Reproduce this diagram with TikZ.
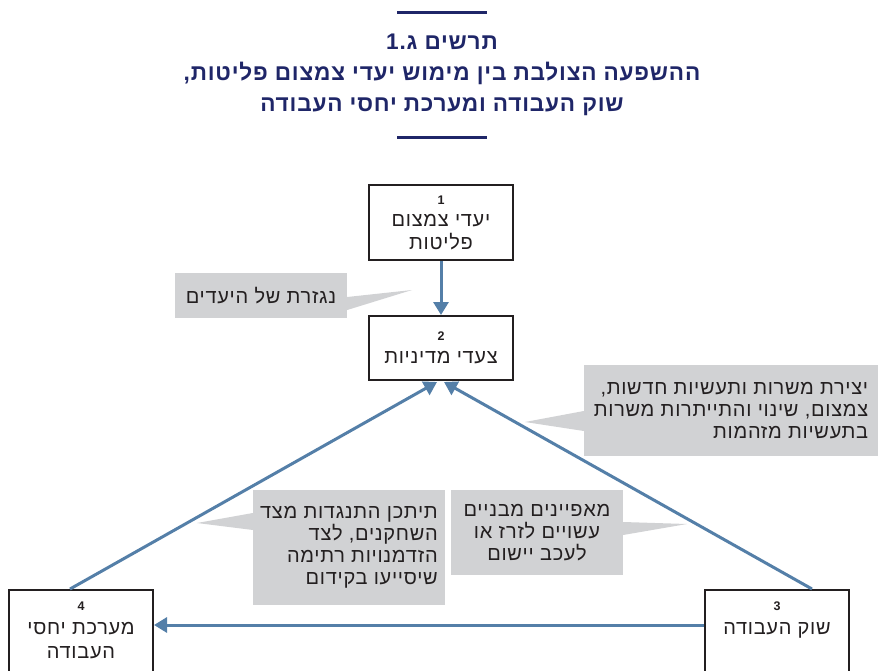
\documentclass[tikz,border=0pt]{standalone}
\usepackage{fontspec}
\setmainfont{Liberation Sans}[Script=Hebrew, LetterSpace=3.5]
\usetikzlibrary{arrows.meta}
\TeXXeTstate=1
\newcommand{\heb}[1]{\beginR #1\endR}
\newcommand{\mispar}[1]{{\fontsize{12.5}{22}\selectfont\bfseries #1}}
\definecolor{koteret}{RGB}{31,38,104}
\definecolor{hetz}{RGB}{84,127,168}
\definecolor{afor}{RGB}{209,210,212}
\definecolor{tekst}{RGB}{35,31,32}
\tikzset{
  tivah/.style={draw=tekst, line width=2pt, fill=white, text=tekst, align=center,
    minimum width=144pt, inner sep=4pt, font=\fontsize{20}{22.5}\selectfont},
  heara/.style={fill=afor, text=tekst, inner sep=0pt, font=\fontsize{20}{22}\selectfont},
  kav/.style={hetz, line width=3pt, -{Triangle[length=13pt,width=15pt]}}
}
\begin{document}
\begin{tikzpicture}[x=1pt,y=-1pt]
\useasboundingbox (0,0) rectangle (878,671);
\clip (0,0) rectangle (878,671);
\draw[koteret, line width=3pt] (397,13) -- (487,13);
\draw[koteret, line width=3pt] (397,138) -- (487,138);
\node[koteret, align=center, font=\fontsize{22.6}{31}\selectfont\bfseries] (titel) at (442,75)
  {\heb{תרשים ג.1}\\ \heb{ההשפעה הצולבת בין מימוש יעדי צמצום פליטות,}\\ \heb{שוק העבודה ומערכת יחסי העבודה}};

\node[heara, minimum width=172pt, minimum height=45pt] (h1) at (261,295.5) {\heb{נגזרת של היעדים}};
\coordinate (p1) at (412,290);
\fill[afor] ([yshift=-1.5]h1.east) -- (p1) -- ([yshift=-14.5]h1.east) -- cycle;

\node[heara, minimum width=294pt, minimum height=91pt, align=right] (h2) at (731,410.5)
  {\heb{יצירת משרות ותעשיות חדשות,}\\ \heb{צמצום, שינוי והתייתרות משרות}\\ \heb{בתעשיות מזהמות}};
\coordinate (p2) at (525,422);
\fill[afor] ([yshift=-0.5]h2.west) -- (p2) -- ([yshift=-20.5]h2.west) -- cycle;

\node[heara, minimum width=192pt, minimum height=115pt, align=right] (h3) at (349,547.5)
  {\heb{תיתכן התנגדות מצד}\\ \heb{השחקנים, לצד}\\ \heb{הזדמנויות רתימה}\\ \heb{שיסייעו בקידום}};
\coordinate (p3) at (197,523);
\fill[afor] ([yshift=34.5]h3.west) -- (p3) -- ([yshift=17.5]h3.west) -- cycle;

\node[heara, minimum width=172pt, minimum height=85pt, align=center] (h4) at (537,532.5)
  {\heb{מאפיינים מבניים}\\ \heb{עשויים לזרז או}\\ \heb{לעכב יישום}};
\coordinate (p4) at (687,524);
\fill[afor] ([yshift=10.5]h4.east) -- (p4) -- ([yshift=-2.5]h4.east) -- cycle;

\node[tivah, minimum height=75pt] (b1) at (441,222.5) {\mispar{1}\\ \heb{יעדי צמצום}\\ \heb{פליטות}};
\node[tivah, minimum height=64pt] (b2) at (441,348) {\mispar{2}\\ \heb{צעדי מדיניות}};
\node[tivah, anchor=north, inner ysep=12pt, text depth=40pt, font=\fontsize{20}{24}\selectfont] (b3) at (777,589) {\mispar{3}\\ \heb{שוק העבודה}};
\node[tivah, anchor=north, inner ysep=12pt, text depth=40pt, font=\fontsize{20}{24}\selectfont] (b4) at (81,589) {\mispar{4}\\ \heb{מערכת יחסי}\\ \heb{העבודה}};

\draw[kav] (b1) -- (b2);
\draw[kav] ([xshift=-11]b4.north) -- ([xshift=-4,yshift=-1]b2.south);
\draw[kav] ([xshift=35]b3.north) -- ([xshift=3,yshift=-1]b2.south);
\draw[kav] ([yshift=-36]b3.north west) -- ([yshift=-36]b4.north east);
\end{tikzpicture}
\end{document}
